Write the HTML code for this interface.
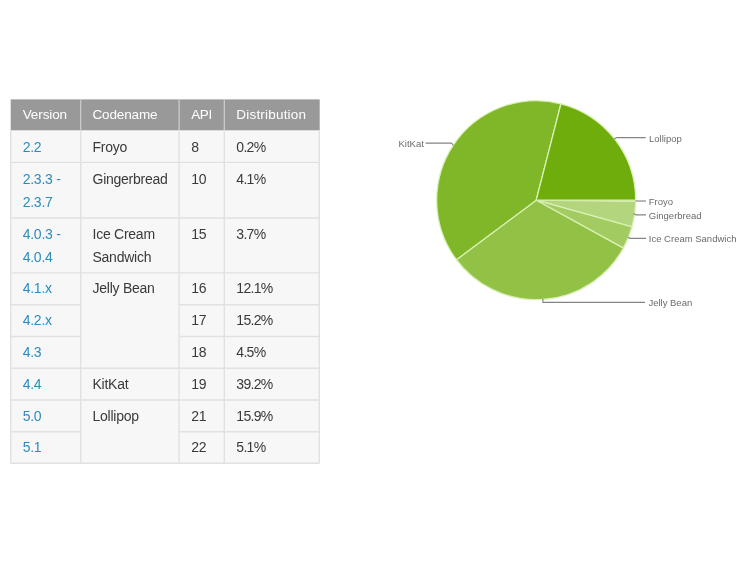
<!DOCTYPE html>
<html><head><meta charset="utf-8"><title>Android distribution</title><style>
html,body{margin:0;padding:0;background:#fff;}
body{width:750px;height:563px;position:relative;overflow:hidden;font-family:"Liberation Sans",Arial,sans-serif;}
#wrap{position:absolute;left:0;top:0;width:750px;height:563px;filter:blur(0.45px);}
.t{position:absolute;white-space:nowrap;font-size:14px;line-height:16px;color:#3a3a3a;letter-spacing:-0.25px;}
.t.l{color:#2a8cbf;}
.t.w{color:#fff;}
.t.n{letter-spacing:-0.7px;}
svg{position:absolute;left:0;top:0;}
svg text{font-family:"Liberation Sans",Arial,sans-serif;font-size:9.5px;fill:#6b6b6b;}
</style></head><body>
<div id="wrap">
<svg width="750" height="563" viewBox="0 0 750 563">
<rect x="10.2" y="130.3" width="309.6" height="333.4" fill="#f7f7f7"/>
<rect x="10.7" y="99.4" width="309.0" height="30.9" fill="#999"/>
<path d="M10.7 130.3V463.2M80.7 130.3V463.2M179.1 130.3V463.2M224.3 130.3V463.2M319.3 130.3V463.2M10.7 162.4H319.3M10.7 218.0H319.3M10.7 272.9H319.3M10.7 304.7H80.7M179.1 304.7H319.3M10.7 336.5H80.7M179.1 336.5H319.3M10.7 368.3H319.3M10.7 400.0H319.3M10.7 431.8H80.7M179.1 431.8H319.3M10.7 463.2H319.3" stroke="#e1e1e1" stroke-width="1.4" fill="none"/>
<path d="M80.7 99.4V130.3M179.1 99.4V130.3M224.3 99.4V130.3" stroke="#cfcfcf" stroke-width="1.2" fill="none"/>
<path d="M536.2 200.2L635.70 200.20A99.5 99.5 0 0 1 635.69 201.45Z" fill="#c4df9b" stroke="#d9f0b4" stroke-width="1.3" stroke-linejoin="round"/>
<path d="M536.2 200.2L635.69 201.45A99.5 99.5 0 0 1 632.09 226.76Z" fill="#b3d57e" stroke="#d9f0b4" stroke-width="1.3" stroke-linejoin="round"/>
<path d="M536.2 200.2L632.09 226.76A99.5 99.5 0 0 1 623.39 248.13Z" fill="#a2cb62" stroke="#d9f0b4" stroke-width="1.3" stroke-linejoin="round"/>
<path d="M536.2 200.2L623.39 248.13A99.5 99.5 0 0 1 456.44 259.69Z" fill="#91c145" stroke="#d9f0b4" stroke-width="1.3" stroke-linejoin="round"/>
<path d="M536.2 200.2L456.44 259.69A99.5 99.5 0 0 1 560.94 103.83Z" fill="#80b728" stroke="#d9f0b4" stroke-width="1.3" stroke-linejoin="round"/>
<path d="M536.2 200.2L560.94 103.83A99.5 99.5 0 0 1 635.70 200.20Z" fill="#6fad0c" stroke="#d9f0b4" stroke-width="1.3" stroke-linejoin="round"/>
<path d="M635.5 201H646" stroke="#848484" stroke-width="1.15" fill="none"/>
<path d="M633.6 213.6L636 214.9H646" stroke="#848484" stroke-width="1.15" fill="none"/>
<path d="M628 237.2L630 238.3H646" stroke="#848484" stroke-width="1.15" fill="none"/>
<path d="M542.9 299V302.3H645" stroke="#848484" stroke-width="1.15" fill="none"/>
<path d="M453.5 145.5L451.5 143.1H425.6" stroke="#848484" stroke-width="1.15" fill="none"/>
<path d="M614.2 139L616.4 137.6H645.7" stroke="#848484" stroke-width="1.15" fill="none"/>
<text x="648.8" y="205">Froyo</text>
<text x="648.8" y="219.2">Gingerbread</text>
<text x="648.8" y="242.3">Ice Cream Sandwich</text>
<text x="648.4" y="306">Jelly Bean</text>
<text x="649" y="141.5">Lollipop</text>
<text x="398.5" y="147">KitKat</text>
</svg>
<div class="t w" style="left:22.7px;top:107px;font-size:13.5px;letter-spacing:-0.1px">Version</div>
<div class="t w" style="left:92.5px;top:107px;font-size:13.5px;letter-spacing:-0.15px">Codename</div>
<div class="t w" style="left:191.2px;top:107px;font-size:13.5px;letter-spacing:-0.4px">API</div>
<div class="t w" style="left:236.3px;top:107px;font-size:13.5px;letter-spacing:0.2px">Distribution</div>
<div class="t l" style="left:22.7px;top:139px">2.2</div>
<div class="t " style="left:92.5px;top:139px">Froyo</div>
<div class="t " style="left:191.2px;top:139px">8</div>
<div class="t n" style="left:236.3px;top:139px">0.2%</div>
<div class="t l" style="left:22.7px;top:171px">2.3.3 -</div>
<div class="t " style="left:92.5px;top:171px">Gingerbread</div>
<div class="t " style="left:191.2px;top:171px">10</div>
<div class="t n" style="left:236.3px;top:171px">4.1%</div>
<div class="t l" style="left:22.7px;top:226px">4.0.3 -</div>
<div class="t " style="left:92.5px;top:226px">Ice Cream</div>
<div class="t " style="left:191.2px;top:226px">15</div>
<div class="t n" style="left:236.3px;top:226px">3.7%</div>
<div class="t l" style="left:22.7px;top:280px">4.1.x</div>
<div class="t " style="left:92.5px;top:280px">Jelly Bean</div>
<div class="t " style="left:191.2px;top:280px">16</div>
<div class="t n" style="left:236.3px;top:280px">12.1%</div>
<div class="t l" style="left:22.7px;top:312px">4.2.x</div>
<div class="t " style="left:191.2px;top:312px">17</div>
<div class="t n" style="left:236.3px;top:312px">15.2%</div>
<div class="t l" style="left:22.7px;top:344px">4.3</div>
<div class="t " style="left:191.2px;top:344px">18</div>
<div class="t n" style="left:236.3px;top:344px">4.5%</div>
<div class="t l" style="left:22.7px;top:376px">4.4</div>
<div class="t " style="left:92.5px;top:376px">KitKat</div>
<div class="t " style="left:191.2px;top:376px">19</div>
<div class="t n" style="left:236.3px;top:376px">39.2%</div>
<div class="t l" style="left:22.7px;top:408px">5.0</div>
<div class="t " style="left:92.5px;top:408px">Lollipop</div>
<div class="t " style="left:191.2px;top:408px">21</div>
<div class="t n" style="left:236.3px;top:408px">15.9%</div>
<div class="t l" style="left:22.7px;top:439px">5.1</div>
<div class="t " style="left:191.2px;top:439px">22</div>
<div class="t n" style="left:236.3px;top:439px">5.1%</div>
<div class="t l" style="left:22.7px;top:194px">2.3.7</div>
<div class="t l" style="left:22.7px;top:249px">4.0.4</div>
<div class="t " style="left:92.5px;top:249px">Sandwich</div>
</div>
</body></html>
